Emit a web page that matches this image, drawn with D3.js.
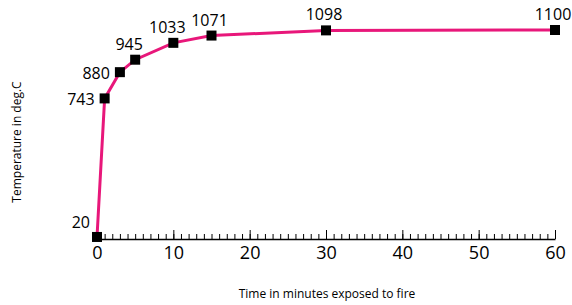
<!DOCTYPE html>
<html>
<head>
<meta charset="utf-8">
<script src="https://cdn.jsdelivr.net/npm/d3@7"></script>
<style>
  body { margin: 0; background: #fff; }
  svg text { font-family: "Open Sans", sans-serif; fill: #000; }
</style>
</head>
<body>
<svg id="svg" width="572" height="305"></svg>
<script>
// time (min) vs fire temperature
var minutes = [0, 1, 3, 5, 10, 15, 30, 60];
var temps = [20, 743, 880, 945, 1033, 1071, 1098, 1100];
var xTicks = [0, 10, 20, 30, 40, 50, 60];

var svg = d3.select("#svg");
var data = minutes.map(function(m, i) { return [m, temps[i]]; });

var x = d3.scaleLinear().domain([0, 60]).range([97, 555]);
var y = d3.scaleLinear().domain([0, 1100]).range([240.8, 30]);
var axisY = 239;

// minor ticks every minute
svg.append("g")
    .attr("transform", "translate(0," + axisY + ")")
    .call(d3.axisBottom(x).tickValues(d3.range(0, 61)).tickSize(-5).tickSizeOuter(0).tickFormat(""))
    .call(function(g) { g.select(".domain").attr("stroke", "#000").attr("stroke-width", 1.3); });

// major ticks
var xAxis = svg.append("g")
    .attr("transform", "translate(0," + axisY + ")")
    .call(d3.axisBottom(x).tickValues(xTicks).tickSize(-9).tickSizeOuter(0).tickPadding(6));
xAxis.select(".domain").remove();
xAxis.selectAll("text")
    .style("font-size", "18px")
    .attr("dy", "0.78em");

// line
var line = d3.line()
    .x(function(d) { return x(d[0]); })
    .y(function(d) { return y(d[1]); });
svg.append("path")
    .datum(data)
    .attr("d", line)
    .attr("fill", "none")
    .attr("stroke", "#e8177a")
    .attr("stroke-width", 3);

// markers
svg.selectAll("rect.pt").data(data).enter()
    .append("rect")
    .attr("class", "pt")
    .attr("x", function(d) { return x(d[0]) - 5; })
    .attr("y", function(d) { return y(d[1]) - 5; })
    .attr("width", 10)
    .attr("height", 10)
    .attr("fill", "#000");

// value labels: the first three sit left of the point, the rest above
svg.selectAll("text.lbl").data(data).enter()
    .append("text")
    .attr("class", "lbl")
    .style("font-size", "16px")
    .attr("text-anchor", function(d, i) { return i < 3 ? "end" : "middle"; })
    .attr("x", function(d, i) {
        if (i === 0) return x(d[0]) - 7;
        if (i < 3) return x(d[0]) - 10;
        if (i < 5) return x(d[0]) - 6;
        return x(d[0]) - 2;
    })
    .attr("y", function(d, i) {
        if (i === 0) return y(d[1]) - 9;
        if (i < 3) return y(d[1]) + 7;
        return y(d[1]) - 10;
    })
    .text(function(d) { return d[1]; });

// axis titles
svg.append("text")
    .attr("x", 327)
    .attr("y", 298)
    .attr("text-anchor", "middle")
    .style("font-size", "12px")
    .text("Time in minutes exposed to fire");

svg.append("text")
    .attr("transform", "translate(21,142) rotate(-90)")
    .attr("text-anchor", "middle")
    .style("font-size", "12px")
    .text("Temperature in deg.C");
</script>
</body>
</html>
